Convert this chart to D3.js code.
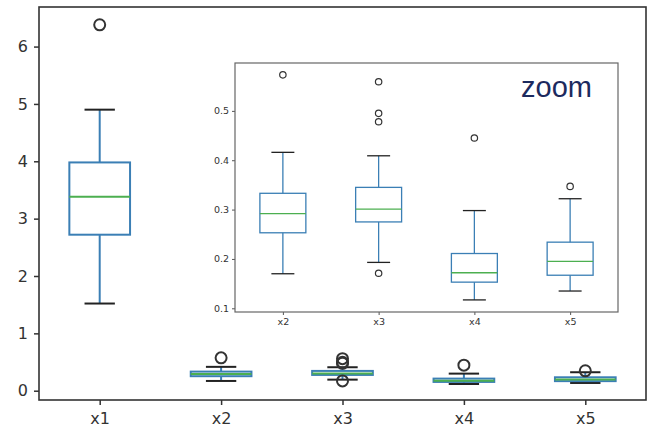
<!DOCTYPE html>
<html>
<head>
<meta charset="utf-8">
<script src="https://cdn.jsdelivr.net/npm/d3@7"></script>
<style>
body { margin: 0; background: #fff; }
text { font-family: "DejaVu Sans", sans-serif; }
</style>
</head>
<body>
<div id="chart"></div>
<script>
// box stats
var names = ["x1", "x2", "x3", "x4", "x5"];
var lo  = [1.52, 0.170, 0.193, 0.117, 0.135];
var q1  = [2.72, 0.253, 0.275, 0.153, 0.167];
var med = [3.38, 0.292, 0.301, 0.172, 0.195];
var q3  = [3.98, 0.333, 0.345, 0.211, 0.234];
var hi  = [4.90, 0.416, 0.409, 0.298, 0.322];
var fliers = [[6.38], [0.573], [0.559, 0.495, 0.478, 0.171], [0.445], [0.347]];
var mainTicks = [0, 1, 2, 3, 4, 5, 6];
var insetTicks = [0.1, 0.2, 0.3, 0.4, 0.5];

var boxes = names.map(function(n, i) {
    return {name: n, pos: i + 1, lo: lo[i], q1: q1[i], med: med[i], q3: q3[i], hi: hi[i], fliers: fliers[i]};
});

var svg = d3.select("#chart").append("svg")
    .attr("width", 662)
    .attr("height", 434);

function drawBoxes(g, data, x, y, opt) {
    var half = opt.width / 2;
    var b = g.selectAll(".box")
        .data(data)
        .enter().append("g")
        .attr("class", "box");

    // whiskers
    b.append("line")
        .attr("x1", function(d) { return x(d.pos); })
        .attr("x2", function(d) { return x(d.pos); })
        .attr("y1", function(d) { return y(d.lo); })
        .attr("y2", function(d) { return y(d.q1); })
        .style("stroke", "#3b7fb5").style("stroke-width", opt.lw);
    b.append("line")
        .attr("x1", function(d) { return x(d.pos); })
        .attr("x2", function(d) { return x(d.pos); })
        .attr("y1", function(d) { return y(d.q3); })
        .attr("y2", function(d) { return y(d.hi); })
        .style("stroke", "#3b7fb5").style("stroke-width", opt.lw);
    // caps
    ["lo", "hi"].forEach(function(k) {
        b.append("line")
            .attr("x1", function(d) { return x(d.pos - half / 2); })
            .attr("x2", function(d) { return x(d.pos + half / 2); })
            .attr("y1", function(d) { return y(d[k]); })
            .attr("y2", function(d) { return y(d[k]); })
            .style("stroke", "#222").style("stroke-width", opt.lw);
    });
    // box
    b.append("rect")
        .attr("x", function(d) { return x(d.pos - half); })
        .attr("width", function(d) { return x(d.pos + half) - x(d.pos - half); })
        .attr("y", function(d) { return y(d.q3); })
        .attr("height", function(d) { return y(d.q1) - y(d.q3); })
        .style("fill", "none")
        .style("stroke", "#3b7fb5").style("stroke-width", opt.lw);
    // median
    b.append("line")
        .attr("x1", function(d) { return x(d.pos - half); })
        .attr("x2", function(d) { return x(d.pos + half); })
        .attr("y1", function(d) { return y(d.med); })
        .attr("y2", function(d) { return y(d.med); })
        .style("stroke", "#4caf50").style("stroke-width", opt.lw);
    // outliers
    b.selectAll(".flier")
        .data(function(d) { return d.fliers.map(function(v) { return {pos: d.pos, v: v}; }); })
        .enter().append("circle")
        .attr("class", "flier")
        .attr("cx", function(d) { return x(d.pos); })
        .attr("cy", function(d) { return y(d.v); })
        .attr("r", opt.r)
        .style("fill", "none")
        .style("stroke", "#333").style("stroke-width", opt.flw);
}

// ---- main axes ----
var x = d3.scaleLinear().domain([0.5, 5.5]).range([39, 646]);
var y = d3.scaleLinear().domain([-0.162, 6.69]).range([400, 7]);

var main = svg.append("g");
drawBoxes(main, boxes, x, y, {width: 0.5, lw: 2, r: 5.5, flw: 2});

var yAxis = main.append("g")
    .attr("transform", "translate(39,0)")
    .call(d3.axisLeft(y).tickValues(mainTicks).tickSize(5).tickPadding(6).tickFormat(d3.format("d")));
var xAxis = main.append("g")
    .attr("transform", "translate(0,400)")
    .call(d3.axisBottom(x).tickValues(boxes.map(function(d) { return d.pos; }))
        .tickSize(5).tickPadding(8).tickFormat(function(d, i) { return names[i]; }));
[yAxis, xAxis].forEach(function(a) {
    a.select(".domain").remove();
    a.selectAll("line").style("stroke", "#333").style("stroke-width", 1.5);
    a.selectAll("text").style("font-size", "16px").style("fill", "#333")
        .style("font-family", "DejaVu Sans");
});
main.append("rect")
    .attr("x", 39).attr("y", 7)
    .attr("width", 646 - 39).attr("height", 400 - 7)
    .style("fill", "none").style("stroke", "#333").style("stroke-width", 1.6);

// ---- inset (zoom on x2..x5) ----
var ix = d3.scaleLinear().domain([0.5, 4.5]).range([235, 618]);
var iy = d3.scaleLinear().domain([0.0925, 0.597]).range([312, 63]);

var inset = svg.append("g");
inset.append("rect")
    .attr("x", 235).attr("y", 63)
    .attr("width", 618 - 235).attr("height", 312 - 63)
    .style("fill", "#fff");

var insetBoxes = boxes.slice(1).map(function(d, i) {
    return Object.assign({}, d, {pos: i + 1});
});
drawBoxes(inset, insetBoxes, ix, iy, {width: 0.48, lw: 1.3, r: 3.2, flw: 1.2});

var iyAxis = inset.append("g")
    .attr("transform", "translate(235,0)")
    .call(d3.axisLeft(iy).tickValues(insetTicks).tickSize(3).tickPadding(3).tickFormat(d3.format(".1f")));
var ixAxis = inset.append("g")
    .attr("transform", "translate(0,312)")
    .call(d3.axisBottom(ix).tickValues(insetBoxes.map(function(d) { return d.pos; }))
        .tickSize(3).tickPadding(3).tickFormat(function(d, i) { return insetBoxes[i].name; }));
[iyAxis, ixAxis].forEach(function(a) {
    a.select(".domain").remove();
    a.selectAll("line").style("stroke", "#555").style("stroke-width", 1);
    a.selectAll("text").style("font-size", "9.5px").style("fill", "#333")
        .style("font-family", "DejaVu Sans");
});
inset.append("rect")
    .attr("x", 235).attr("y", 63)
    .attr("width", 618 - 235).attr("height", 312 - 63)
    .style("fill", "none").style("stroke", "#666").style("stroke-width", 1.2);

inset.append("text")
    .attr("x", 592).attr("y", 97)
    .attr("text-anchor", "end")
    .style("font-family", "Liberation Sans, sans-serif")
    .style("font-size", "29px")
    .style("fill", "#1c2a5e")
    .text("zoom");
</script>
</body>
</html>
